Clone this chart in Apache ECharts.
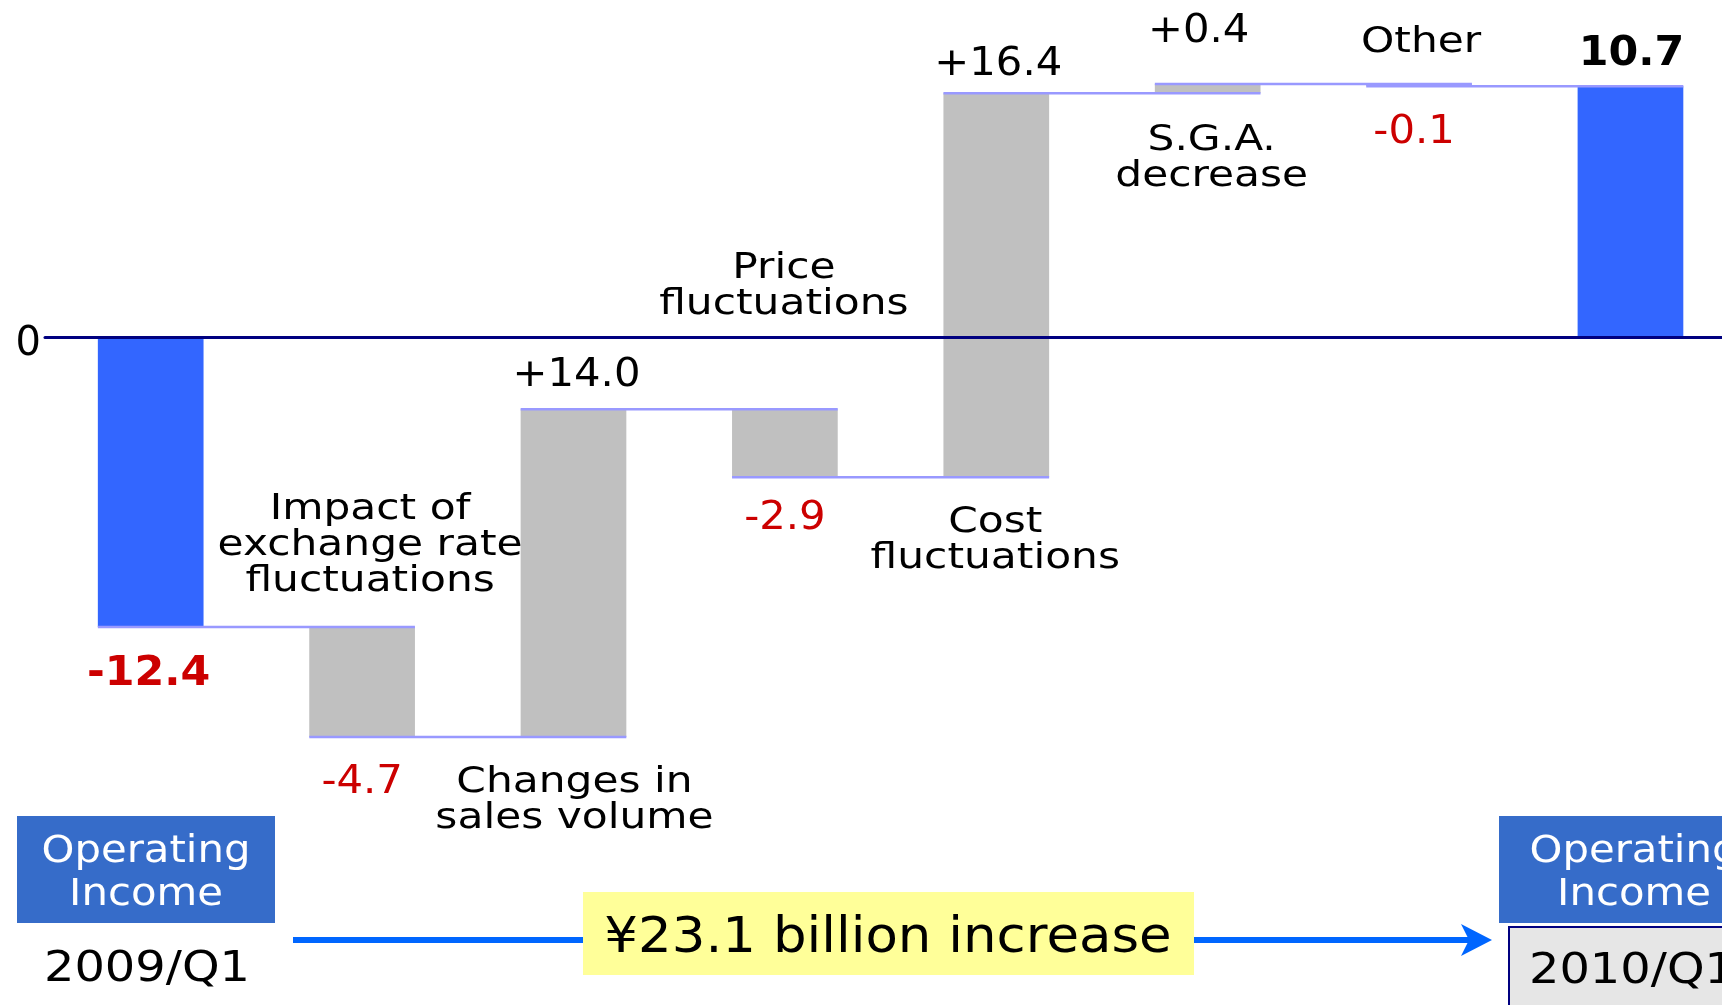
<!DOCTYPE html>
<html>
<head>
<meta charset="utf-8">
<title>Operating Income 2009/Q1 - 2010/Q1</title>
<script src="https://cdn.jsdelivr.net/npm/echarts@6.0.0/dist/echarts.min.js"></script>
<style>
  html, body { margin: 0; padding: 0; background: #fff; }
  #main { width: 1722px; height: 1005px; }
</style>
</head>
<body>
<div id="main"></div>
<script>
// 数据
var categories = [
  'Operating Income 2009/Q1',
  'Impact of\nexchange rate\nfluctuations',
  'Changes in\nsales volume',
  'Price\nfluctuations',
  'Cost\nfluctuations',
  'S.G.A.\ndecrease',
  'Other',
  'Operating Income 2010/Q1'
];
var values = [-12.4, -4.7, 14.0, -2.9, 16.4, 0.4, -0.1, 10.7];
var isTotal = [true, false, false, false, false, false, false, true];
var periods = ['2009/Q1', '2010/Q1'];
var boxTitle = 'Operating\nIncome';
var increaseText = '¥23.1 billion increase';

// 标签位置 [相对柱子的哪一边, 纵向偏移px, 横向偏移px]
var valuePlace = [['bottom', 48, -2], ['bottom', 46, 0], ['top', -33, 3], ['bottom', 42, 0],
  ['top', -28, 2], ['top', -52, -9], ['bottom', 47, -5], ['top', -32, 1]];
var namePlace = [null, ['top', -81, 8], ['bottom', 64, 1], ['top', -122, -1],
  ['bottom', 64, -1], ['bottom', 66, 4], ['top', -41, 2], null];

var FONT = '"DejaVu Sans", Verdana, sans-serif';

// 瀑布图: 起点/终点
var rows = [];
var run = 0;
values.forEach(function (v, i) {
  var start = isTotal[i] ? 0 : run;
  var end = Math.round(((isTotal[i] ? 0 : run) + v) * 10) / 10;
  rows.push([i, start, end]);
  run = end;
});

function makeText(text, x, y, size, weight, color, sx, lh) {
  return {
    type: 'text',
    x: x,
    y: y,
    scaleX: sx,
    z2: 10,
    style: {
      text: text,
      fill: color,
      fontSize: size,
      fontWeight: weight,
      fontFamily: FONT,
      lineHeight: lh,
      align: 'center',
      verticalAlign: 'middle',
      textAlign: 'center',
      textVerticalAlign: 'middle'
    }
  };
}

function renderItem(params, api) {
  var i = api.value(0);
  var start = api.value(1);
  var end = api.value(2);
  var bw = api.size([1, 0])[0] * 0.5;
  var top = api.coord([i, Math.max(start, end)]);
  var bot = api.coord([i, Math.min(start, end)]);
  var x0 = top[0] - bw / 2;
  var children = [{
    type: 'rect',
    shape: { x: x0, y: top[1], width: bw, height: Math.max(bot[1] - top[1], 1) },
    style: { fill: isTotal[i] ? '#3366ff' : '#c0c0c0' }
  }];
  // 连接线
  if (i < values.length - 1) {
    var ly = api.coord([i, end])[1];
    var nx = api.coord([i + 1, end])[0];
    children.push({
      type: 'line',
      z2: 5,
      shape: { x1: x0, y1: ly, x2: nx + bw / 2, y2: ly },
      style: { stroke: '#9999ff', lineWidth: 2.5 }
    });
  }
  var v = values[i];
  var vp = valuePlace[i];
  var vy = (vp[0] === 'top' ? top[1] : bot[1]) + vp[1];
  var txt = isTotal[i] ? v.toFixed(1) : (v > 0 ? '+' : '') + v.toFixed(1);
  var color = v < 0 ? '#cc0000' : '#000000';
  if (isTotal[i]) {
    children.push(makeText(txt, top[0] + vp[2], vy, 40, 'bold', color, 1.07, 44));
  } else {
    children.push(makeText(txt, top[0] + vp[2], vy, 39, 'normal', color, 1.07, 44));
  }
  var np = namePlace[i];
  if (np) {
    var ny = (np[0] === 'top' ? top[1] : bot[1]) + np[1];
    children.push(makeText(categories[i], top[0] + np[2], ny, 35, 'normal', '#000000', 1.21, 36));
  }
  return { type: 'group', children: children };
}

var myChart = echarts.init(document.getElementById('main'));

myChart.setOption({
  backgroundColor: '#ffffff',
  animation: false,
  grid: { left: 45, top: 9, width: 1677, height: 796 },
  // 横轴用数值轴, 图的右边被裁掉一部分
  xAxis: {
    type: 'value',
    min: -0.5,
    max: 7.433,
    z: 10,
    axisLine: { onZero: true, lineStyle: { color: '#000080', width: 3 } },
    axisTick: { show: false },
    axisLabel: { show: false },
    splitLine: { show: false }
  },
  yAxis: {
    type: 'value',
    min: -20,
    max: 14,
    interval: 2,
    axisLine: { show: false, onZero: false },
    axisTick: { show: false },
    splitLine: { show: false },
    axisLabel: {
      margin: 4,
      fontSize: 40,
      color: '#000000',
      fontFamily: FONT,
      verticalAlign: 'top',
      lineHeight: 15,
      formatter: function (v) { return v === 0 ? '0' : ''; }
    }
  },
  series: [{
    type: 'custom',
    renderItem: renderItem,
    encode: { x: 0, y: [1, 2] },
    data: rows,
    z: 2
  }],
  graphic: [
    // 箭头
    { type: 'line', z: 1, shape: { x1: 293, y1: 940, x2: 1474, y2: 940 }, style: { stroke: '#0066ff', lineWidth: 6 } },
    { type: 'polygon', z: 1, shape: { points: [[1492, 940], [1461, 924], [1469, 940], [1461, 956]] }, style: { fill: '#0066ff' } },
    { type: 'rect', z: 2, shape: { x: 583, y: 892, width: 611, height: 83 }, style: { fill: '#ffff99' } },
    { type: 'text', z: 3, x: 888, y: 939, scaleX: 1.06, style: { text: increaseText, fill: '#000', fontSize: 50, fontFamily: FONT, align: 'center', verticalAlign: 'middle', textAlign: 'center', textVerticalAlign: 'middle' } },
    // 左框
    { type: 'rect', z: 2, shape: { x: 17, y: 816, width: 258, height: 107 }, style: { fill: '#366cc9' } },
    { type: 'text', z: 3, x: 146, y: 874, scaleX: 1.13, style: { text: boxTitle, fill: '#ffffff', fontSize: 37, lineHeight: 43, fontFamily: FONT, align: 'center', verticalAlign: 'middle', textAlign: 'center', textVerticalAlign: 'middle' } },
    { type: 'text', z: 3, x: 147, y: 970, scaleX: 1.14, style: { text: periods[0], fill: '#000', fontSize: 42, fontFamily: FONT, align: 'center', verticalAlign: 'middle', textAlign: 'center', textVerticalAlign: 'middle' } },
    // 右框
    { type: 'rect', z: 2, shape: { x: 1499, y: 816, width: 260, height: 107 }, style: { fill: '#366cc9' } },
    { type: 'text', z: 3, x: 1634, y: 874, scaleX: 1.13, style: { text: boxTitle, fill: '#ffffff', fontSize: 37, lineHeight: 43, fontFamily: FONT, align: 'center', verticalAlign: 'middle', textAlign: 'center', textVerticalAlign: 'middle' } },
    { type: 'rect', z: 2, shape: { x: 1509, y: 927, width: 250, height: 100 }, style: { fill: '#e6e6e6', stroke: '#000080', lineWidth: 2 } },
    { type: 'text', z: 3, x: 1632, y: 972, scaleX: 1.14, style: { text: periods[1], fill: '#000', fontSize: 42, fontFamily: FONT, align: 'center', verticalAlign: 'middle', textAlign: 'center', textVerticalAlign: 'middle' } }
  ]
});
</script>
</body>
</html>
